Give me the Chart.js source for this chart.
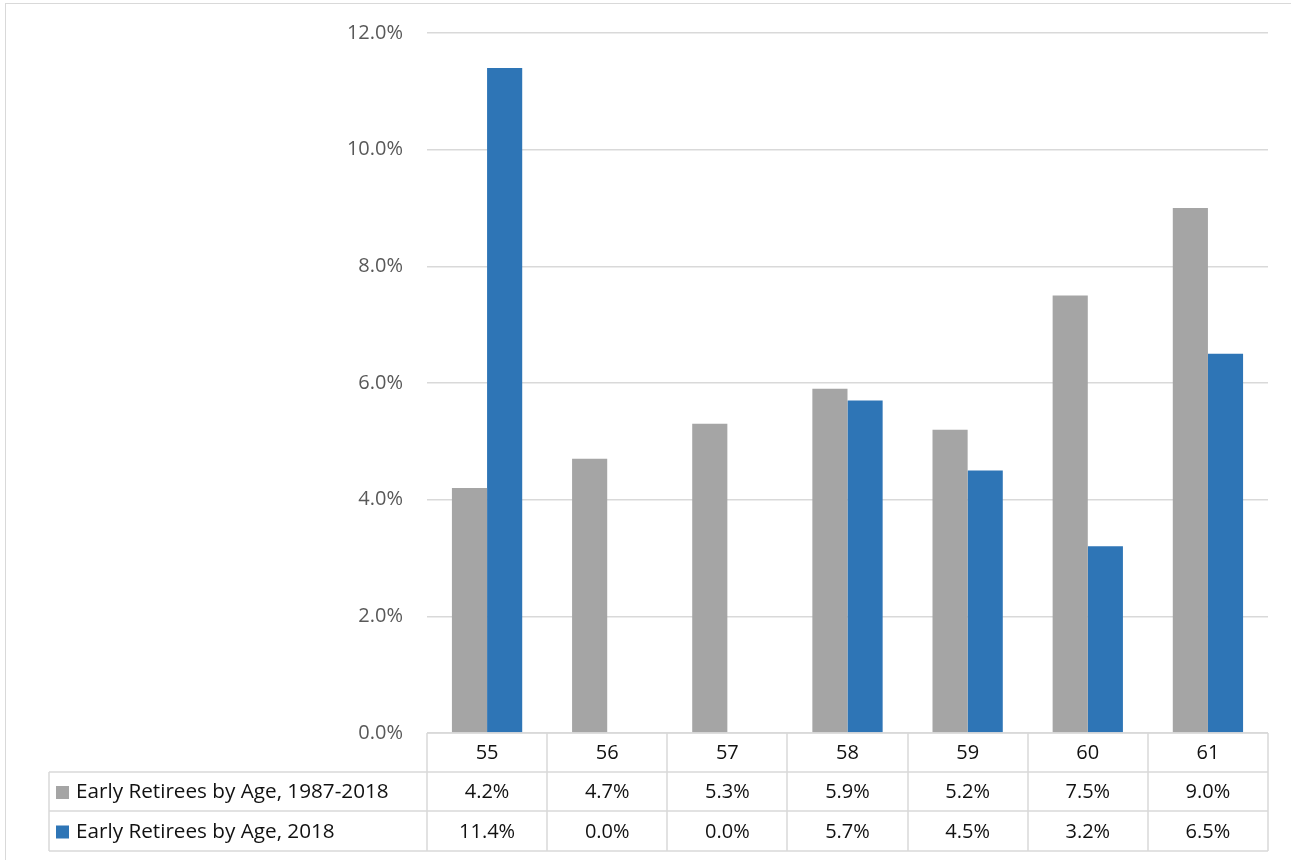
<!doctype html>
<html lang="en">
  <head>
    <script src="https://cdn.jsdelivr.net/npm/chart.js"></script>
    <style>
      html, body { margin: 0; padding: 0; background: #fff; }
      #wrap { position: relative; width: 1291px; height: 860px; }
      #frame { position: absolute; left: 5px; top: 3px; width: 1300px; height: 870px; border: 1px solid #d9d9d9; box-sizing: border-box; }
    </style>
  </head>
  <body>
    <div id="wrap">
      <div id="frame"></div>
      <canvas id="myChart1" width="1291" height="860"></canvas>
    </div>
    <script>
      const ages = ['55', '56', '57', '58', '59', '60', '61'];
      const seriesNames = ['Early Retirees by Age, 1987-2018', 'Early Retirees by Age, 2018'];
      const allYears = [4.2, 4.7, 5.3, 5.9, 5.2, 7.5, 9.0];
      const year2018 = [11.4, 0.0, 0.0, 5.7, 4.5, 3.2, 6.5];
      const colors = ['#a5a5a5', '#2e75b6'];

      const fontFamily = '"Open Sans", sans-serif';

      // data table under the plot, lined up with the category scale
      const dataTable = {
        id: 'dataTable',
        afterDraw(chart) {
          const ctx = chart.ctx;
          const area = chart.chartArea;
          const x = chart.scales.x;
          const step = x.getPixelForValue(1) - x.getPixelForValue(0);
          const left = area.left, right = area.right;
          const legendLeft = 49;
          const rows = [area.bottom, 772, 811, 851];
          const rowsData = [allYears, year2018];

          ctx.save();
          ctx.strokeStyle = '#d9d9d9';
          ctx.lineWidth = 1.5;
          ctx.beginPath();
          ctx.moveTo(left, rows[0]); ctx.lineTo(right, rows[0]);
          for (let r = 1; r < rows.length; r++) {
            ctx.moveTo(legendLeft, rows[r]); ctx.lineTo(right, rows[r]);
          }
          ctx.moveTo(legendLeft, rows[1]); ctx.lineTo(legendLeft, rows[3]);
          for (let i = 0; i <= ages.length; i++) {
            const vx = Math.round(left + i * step);
            ctx.moveTo(vx, rows[0]); ctx.lineTo(vx, rows[3]);
          }
          ctx.stroke();

          ctx.fillStyle = '#111';
          ctx.font = '20px ' + fontFamily;
          ctx.textAlign = 'center';
          ctx.textBaseline = 'middle';
          ages.forEach(function (a, i) {
            ctx.fillText(a, x.getPixelForValue(i), (rows[0] + rows[1]) / 2 + 1);
          });
          rowsData.forEach(function (vals, r) {
            const cy = (rows[r + 1] + rows[r + 2]) / 2 + 1;
            vals.forEach(function (v, i) {
              ctx.fillText(v.toFixed(1) + '%', x.getPixelForValue(i), cy);
            });
            ctx.fillStyle = colors[r];
            ctx.fillRect(56, cy - 6.5, 13, 13);
            ctx.fillStyle = '#111';
            ctx.textAlign = 'left';
            ctx.font = '20.7px ' + fontFamily;
            ctx.fillText(seriesNames[r], 76, cy);
            ctx.font = '20px ' + fontFamily;
            ctx.textAlign = 'center';
          });
          ctx.restore();
        }
      };

      const canvas = document.getElementById('myChart1');
      const chart = new Chart(canvas, {
        type: 'bar',
        data: {
          labels: ages,
          datasets: [
            { label: seriesNames[0], data: allYears, backgroundColor: colors[0], borderWidth: 0 },
            { label: seriesNames[1], data: year2018, backgroundColor: colors[1], borderWidth: 0 }
          ]
        },
        options: {
          responsive: false,
          animation: false,
          layout: { padding: { left: 0, top: 33, right: 23, bottom: 127 } },
          datasets: { bar: { barPercentage: 1, categoryPercentage: 0.585 } },
          plugins: {
            legend: { display: false },
            title: { display: false },
            tooltip: { enabled: false }
          },
          scales: {
            x: { display: false },
            y: {
              min: 0,
              max: 12,
              afterFit(scale) {
                scale.width = 427;
                scale.paddingTop = 0;
                scale.paddingBottom = 0;
              },
              border: { display: false },
              grid: { color: '#d9d9d9', lineWidth: 1.5, drawTicks: false },
              ticks: {
                stepSize: 2,
                padding: 24,
                color: '#595959',
                font: { family: fontFamily, size: 20 },
                callback: function (v) { return v.toFixed(1) + '%'; }
              }
            }
          }
        },
        plugins: [dataTable]
      });
    </script>
  </body>
</html>
